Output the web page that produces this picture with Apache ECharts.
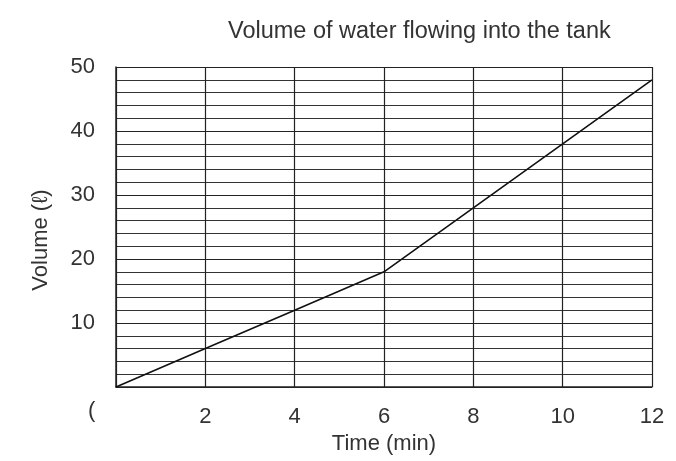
<!DOCTYPE html>
<html>
<head>
<meta charset="utf-8">
<script src="https://cdn.jsdelivr.net/npm/echarts@6/dist/echarts.min.js"></script>
<style>
  html, body { margin: 0; padding: 0; background: #fff; }
  #main { width: 676px; height: 461px; }
</style>
</head>
<body>
<div id="main"></div>
<script>
// time in minutes, volume in litres
var times = [0, 2, 4, 6, 8, 10, 12];
var volumes = [0, 6, 12, 18, 28, 38, 48];
var yTicks = [10, 20, 30, 40, 50];
var xTicks = [2, 4, 6, 8, 10, 12];

var font = 'Liberation Sans, Arial, sans-serif';
var ink = '#333';

var option = {
    animation: false,
    backgroundColor: '#fff',
    title: {
        text: 'Volume of water flowing into the tank',
        left: 223,
        top: 15,
        textStyle: { fontFamily: font, fontSize: 23.5, fontWeight: 'normal', color: ink }
    },
    grid: { left: 116, right: 24, top: 67, bottom: 74 },
    xAxis: {
        type: 'value',
        min: 0,
        max: 12,
        interval: 2,
        name: 'Time (min)',
        nameLocation: 'middle',
        nameGap: 38,
        nameTextStyle: { fontFamily: font, fontSize: 22, color: ink },
        axisLine: { lineStyle: { color: '#222', width: 1.5 } },
        axisTick: { show: false },
        axisLabel: {
            margin: 19,
            fontFamily: font, fontSize: 22, color: ink,
            formatter: function (v) { return xTicks.indexOf(v) >= 0 ? String(v) : ''; }
        },
        splitLine: { show: true, lineStyle: { color: '#222', width: 1.2 } }
    },
    yAxis: {
        type: 'value',
        min: 0,
        max: 50,
        interval: 10,
        name: 'Volume (ℓ)',
        nameLocation: 'middle',
        nameGap: 64,
        nameTextStyle: { fontFamily: font, fontSize: 22, color: ink, padding: [0, 26, 0, 0] },
        axisLine: { show: true, lineStyle: { color: '#222', width: 1.5 } },
        axisTick: { show: false },
        axisLabel: {
            margin: 21,
            fontFamily: font, fontSize: 22, color: ink,
            formatter: function (v) { return yTicks.indexOf(v) >= 0 ? String(v) : ''; }
        },
        splitLine: { show: true, lineStyle: { color: '#222', width: 1.2 } },
        minorTick: { show: false, splitNumber: 5 },
        minorSplitLine: { show: true, lineStyle: { color: '#333', width: 1 } }
    },
    graphic: [{
        // the cut-off zero at the origin
        type: 'text',
        left: 88,
        top: 400,
        style: { text: '(', fontFamily: font, fontSize: 22, fill: ink }
    }],
    series: [{
        type: 'line',
        data: times.map(function (t, i) { return [t, volumes[i]]; }),
        symbol: 'none',
        lineStyle: { color: '#111', width: 1.6 }
    }]
};

var myChart = echarts.init(document.getElementById('main'));
myChart.setOption(option);
</script>
</body>
</html>
